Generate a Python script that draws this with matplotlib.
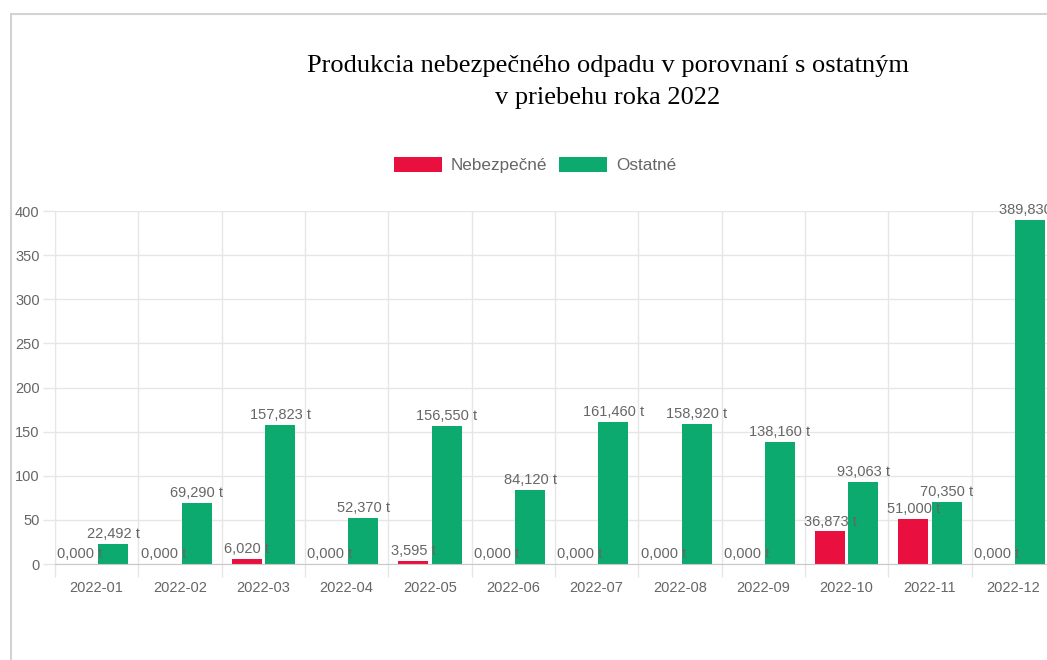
import numpy as np
import matplotlib
matplotlib.use('Agg')
import matplotlib.pyplot as plt
from matplotlib.patches import Patch, Rectangle

# dáta z grafu
mesiace = ['2022-01', '2022-02', '2022-03', '2022-04', '2022-05', '2022-06',
           '2022-07', '2022-08', '2022-09', '2022-10', '2022-11', '2022-12']
nebezpecne = [0.000, 0.000, 6.020, 0.000, 3.595, 0.000,
              0.000, 0.000, 0.000, 36.873, 51.000, 0.000]
ostatne = [22.492, 69.290, 157.823, 52.370, 156.550, 84.120,
           161.460, 158.920, 138.160, 93.063, 70.350, 389.830]
y_ticks = [0, 50, 100, 150, 200, 250, 300, 350, 400]

red = '#e9103f'
green = '#0caa6f'
grid = '#e6e6e6'
txt = '#666666'

plt.rcParams['font.family'] = ['Liberation Sans', 'DejaVu Sans']

W, H = 1047, 660
fig = plt.figure(figsize=(W / 100, H / 100), dpi=100)
ax = fig.add_axes([55 / W, 96 / H, 1000 / W, 353 / H])

x = np.arange(len(mesiace))
bw = 0.36
ax.bar(x - 0.2, nebezpecne, bw, color=red, zorder=2)
ax.bar(x + 0.2, ostatne, bw, color=green, zorder=2)

# popisky nad stĺpcami
def label(v):
    return f'{v:.3f} t'.replace('.', ',')

for xi, v in zip(x - 0.2, nebezpecne):
    ax.annotate(label(v), (xi, v), xytext=(0, 2), textcoords='offset points',
                ha='center', va='bottom', fontsize=10.5, color=txt, zorder=5,
                annotation_clip=False)
for xi, v in zip(x + 0.2, ostatne):
    ax.annotate(label(v), (xi, v), xytext=(0, 2), textcoords='offset points',
                ha='center', va='bottom', fontsize=10.5, color=txt, zorder=5,
                annotation_clip=False)

ax.set_xlim(-0.5, len(mesiace) - 0.5)
ax.set_ylim(0, 400)
ax.set_yticks(y_ticks)
ax.set_yticklabels([str(t) for t in y_ticks])
ax.set_xticks(x)
ax.set_xticklabels(mesiace)
ax.set_xticks(np.arange(len(mesiace) + 1) - 0.5, minor=True)

ax.grid(True, axis='y', color=grid, lw=1, zorder=0)
ax.grid(True, axis='x', which='minor', color=grid, lw=1, zorder=0)
ax.tick_params(axis='x', which='major', length=0, labelsize=10.5, labelcolor=txt, pad=12)
ax.tick_params(axis='x', which='minor', length=9, color=grid, width=1)
ax.tick_params(axis='y', length=9, color=grid, width=1, labelsize=10.5, labelcolor=txt, pad=2)
for s in ['top', 'right']:
    ax.spines[s].set_visible(False)
ax.spines['bottom'].set_color('#c8c8c8')
ax.spines['left'].set_color(grid)

# titulok
fig.text(608 / W, 1 - 66 / H, 'Produkcia nebezpečného odpadu v porovnaní s ostatným',
         ha='center', va='center', fontsize=19, family='Liberation Serif', color='black')
fig.text(608 / W, 1 - 98 / H, 'v priebehu roka 2022',
         ha='center', va='center', fontsize=19, family='Liberation Serif', color='black')

# legenda
handles = [Patch(facecolor=red, label='Nebezpečné'), Patch(facecolor=green, label='Ostatné')]
leg = fig.legend(handles=handles, loc='center', bbox_to_anchor=(535 / W, 1 - 165 / H),
                 ncol=2, frameon=False, fontsize=12.3, handlelength=2.8, handleheight=0.94,
                 handletextpad=0.53, columnspacing=0.7)
for t in leg.get_texts():
    t.set_color(txt)

# rámik
fig.patches.append(Rectangle((11 / W, -0.1), 1.2, 1.1 - 14 / H, transform=fig.transFigure,
                             fill=False, edgecolor='#d3d3d3', lw=1.5, zorder=0))

fig.savefig('out.png', dpi=100)
